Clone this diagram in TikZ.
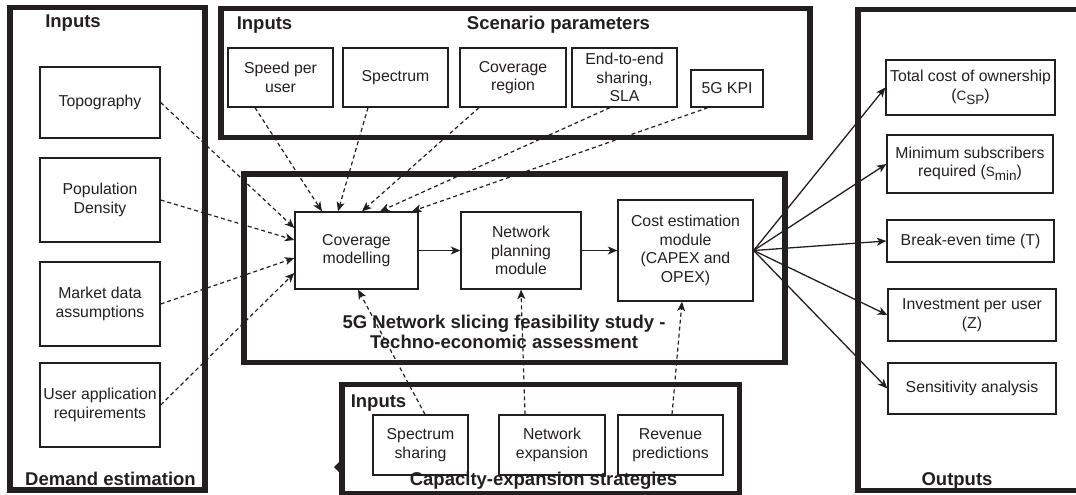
\documentclass[tikz,border=0pt]{standalone}
\usepackage{fontspec}
\setmainfont{Liberation Sans}
\usetikzlibrary{arrows.meta}
\definecolor{ink}{HTML}{231F20}

\newcommand{\lowsub}[2]{{\fontsize{13.5}{13.5}\selectfont #1\raisebox{-4pt}{#2}}}

\begin{document}
\begin{tikzpicture}
    [x=1pt, y=-1pt, ink,
    box/.style={draw=ink, line width=1.3pt, align=center, inner sep=2pt,
      font=\fontsize{15.8}{18.5}\selectfont},
    frame/.style={draw=ink, line width=5.5pt, inner sep=0pt},
    title/.style={font=\fontsize{18.5}{20.5}\selectfont\bfseries, align=center},
    feed/.style={-{Stealth[length=9.5pt,width=8pt,inset=2.5pt]}, line width=1.2pt,
      dash pattern=on 4pt off 3pt},
    flow/.style={-{Stealth[length=9.5pt,width=8pt,inset=2.5pt]}, line width=1.3pt}]
    \useasboundingbox (0,0) rectangle (1076,495);

    % group frames
    \node[frame, minimum width=195, minimum height=482.5] (demand) at (107.5,248.75) {};
    \node[frame, minimum width=589, minimum height=129] (scenario) at (515.5,73) {};
    \node[frame, minimum width=541, minimum height=188.5] (study) at (514.5,268.25) {};
    \node[frame, minimum width=397.5, minimum height=109] (capacity) at (540.75,439) {};
    \node[frame, minimum width=227, minimum height=481] (outputs) at (971.5,250) {};
    \fill (339,462) -- (334,467) -- (339,472) -- cycle;

    \node[title, anchor=base] (demandin) at (73,28) {Inputs};
    \node[title, anchor=base] (demandt) at (110.5,485) {Demand estimation};
    \node[title, anchor=base] (scenin) at (264.5,30) {Inputs};
    \node[title, anchor=base] (scent) at (558.5,30) {Scenario parameters};
    \node[title] (studyt) at (504,332) {5G Network slicing feasibility study -\\Techno-economic assessment};
    \node[title, anchor=base] (capin) at (378.5,407) {Inputs};
    \node[title, anchor=base] (capt) at (543.5,485) {Capacity-expansion strategies};
    \node[title, anchor=base] (outt) at (957,485) {Outputs};

    % demand inputs
    \node[box, minimum width=120, minimum height=71] (topo) at (100,102.5) {Topography};
    \node[box, minimum width=120, minimum height=84] (popden) at (100,200) {Population\\Density};
    \node[box, minimum width=120, minimum height=84] (market) at (100,304) {Market data\\assumptions};
    \node[box, minimum width=120, minimum height=84] (userreq) at (100,405) {User application\\requirements};

    % scenario parameters
    \node[box, minimum width=105, minimum height=59] (speed) at (280.5,77.5) {Speed per\\user};
    \node[box, minimum width=105, minimum height=59] (spectrum) at (395.5,77.5) {Spectrum};
    \node[box, minimum width=106, minimum height=59] (region) at (513,77.5) {Coverage\\region};
    \node[box, minimum width=105, minimum height=59, inner sep=0pt] (e2e) at (624.5,77.5) {End-to-end\\sharing,\\SLA};
    \node[box, minimum width=72, minimum height=37] (kpi) at (727,88.5) {5G KPI};

    % study modules
    \node[box, minimum width=123, minimum height=77] (cov) at (356.5,250.5) {Coverage\\modelling};
    \node[box, minimum width=120, minimum height=77] (plan) at (521,250.5) {Network\\planning\\module};
    \node[box, minimum width=135, minimum height=101] (cost) at (685.5,250.5) {Cost estimation\\module\\(CAPEX and\\OPEX)};

    % capacity expansion
    \node[box, minimum width=95, minimum height=60] (specshare) at (420.5,445) {Spectrum\\sharing};
    \node[box, minimum width=106, minimum height=60] (netexp) at (552,445) {Network\\expansion};
    \node[box, minimum width=105, minimum height=60] (revenue) at (670.5,445) {Revenue\\predictions};

    % outputs
    \node[box, minimum width=169, minimum height=55] (tco) at (970.5,87.5) {Total cost of ownership\\(\lowsub{C}{SP})};
    \node[box, minimum width=166, minimum height=58] (smin) at (970,164) {Minimum subscribers\\required (\lowsub{S}{min})};
    \node[box, minimum width=167, minimum height=42] (breakeven) at (970.5,241) {Break-even time (T)};
    \node[box, minimum width=168, minimum height=52] (invest) at (972,315) {Investment per user\\(Z)};
    \node[box, minimum width=168, minimum height=51] (sens) at (972,388.5) {Sensitivity analysis};

    \draw[feed] (topo.east) -- ([yshift=22.5]cov.west);
    \draw[feed] (popden.east) -- ([yshift=10.5]cov.west);
    \draw[feed] (market.east) -- ([yshift=-7.5]cov.west);
    \draw[feed] (userreq.east) -- ([yshift=-22.5]cov.west);

    \draw[feed] ([xshift=-25.5]speed.south) -- ([xshift=-34.5]cov.north);
    \draw[feed] ([xshift=-27.5]spectrum.south) -- ([xshift=-18.5]cov.north);
    \draw[feed] ([xshift=-34]region.south) -- ([xshift=5.5]cov.north);
    \draw[feed] ([xshift=-14.5]e2e.south) -- ([xshift=23.5]cov.north);
    \draw[feed] ([xshift=-19]kpi.south) -- ([xshift=55.5]cov.north);

    \draw[feed] ([xshift=4.5]specshare.north) -- ([xshift=1.5]cov.south);
    \draw[feed] ([xshift=-27]netexp.north) -- (plan.south);
    \draw[feed] ([xshift=1.5]revenue.north) -- ([xshift=-3.5]cost.south);

    \draw[flow] (cov) -- (plan);
    \draw[flow] (plan) -- (cost);
    \foreach \out in {tco, smin, breakeven, invest, sens}
      \draw[flow] (cost.east) -- (\out.west);
  \end{tikzpicture}
\end{document}
